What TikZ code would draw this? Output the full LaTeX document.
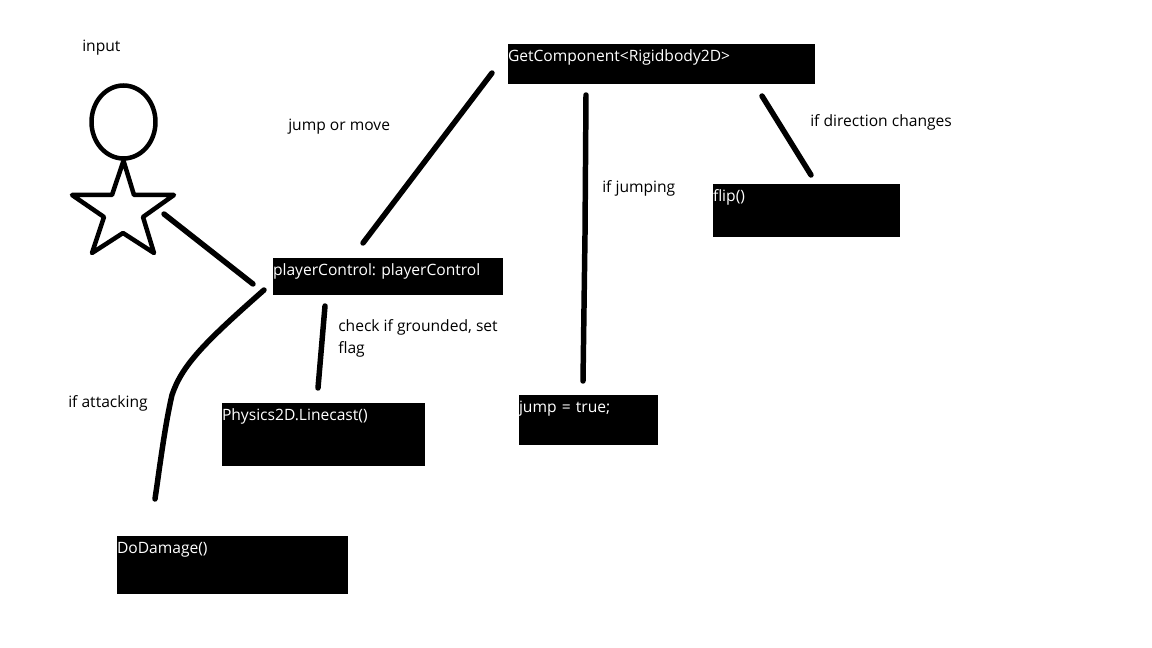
\documentclass[tikz,border=0pt]{standalone}
\usepackage{fontspec}
\setmainfont{Open Sans}
\usepackage{xcolor}
\usetikzlibrary{positioning,calc,shapes}
\frenchspacing

\begin{document}
\begin{tikzpicture}[
    x=0.025cm, y=-0.025cm,
    paintline/.style={line width=3.9pt, line cap=round, line join=round},
    paintshape/.style={line width=3.2pt, line join=round, line cap=round},
    notelabel/.style={inner sep=0pt, anchor=base west, text=black, font=\fontsize{11.1}{15.6}\selectfont},
    paintbox/.style n args={2}{fill=black, text=white, inner sep=0pt, outer sep=0pt, anchor=north west,
        font=\fontsize{11.1}{15.6}\selectfont, align=left, text width=#1*0.025cm,
        text height=18*0.025cm, text depth=(#2-18)*0.025cm}
]
    \useasboundingbox (0,0) rectangle (1152,648);

    % boxes
    \node[paintbox={230}{37}] (playerCtrl) at (273,258) {playerControl: playerControl};
    \node[paintbox={307}{40}] (rigidBody) at (508,44) {GetComponent<Rigidbody2D>};
    \node[paintbox={203}{63}] (lineCast) at (222,403) {Physics2D.Linecast()};
    \node[paintbox={231}{58}] (doDamage) at (117,536) {DoDamage()};
    \node[paintbox={139}{50}] (jumpFlag) at (519,395) {jump = true;};
    \node[paintbox={187}{53}] (flipCall) at (713,184) {flip()};

    % actor
    \node[draw, paintshape, ellipse, inner sep=0pt, minimum width=64*0.025cm, minimum height=73*0.025cm] (head) at (123.5,122) {};
    \draw[paintshape] (head.south) -- (134,195) -- (174,195) -- (143,217) -- (154,253) -- (123,233)
        -- (92,253) -- (104,217) -- (72,195) -- (112,195) -- cycle;
    \coordinate (starTip) at (164,214);

    % connectors
    \draw[paintline] (starTip) -- ($(playerCtrl.north west)+(-20,26)$);
    \draw[paintline] ($(playerCtrl.north west)+(-9,32)$) .. controls (205,342) and (182,365) .. (172,395)
        .. controls (165,425) and (160,465) .. ($(doDamage.north west)+(38,-37)$);
    \draw[paintline] ($(playerCtrl.north west)+(90,-15)$) -- ($(rigidBody.north west)+(-16,29)$);
    \draw[paintline] ($(playerCtrl.south west)+(52,11)$) -- ($(lineCast.north west)+(96,-15)$);
    \draw[paintline] ($(rigidBody.south west)+(78,11)$) -- ($(jumpFlag.north west)+(66,-160)$) -- ($(jumpFlag.north west)+(64,-14)$);
    \draw[paintline] ($(rigidBody.south west)+(254,12)$) -- ($(flipCall.north west)+(98,-9)$);

    % labels
    \node[notelabel] (inputLabel) at (82,52) {input};
    \node[notelabel] (jumpMoveLabel) at (288,131) {jump or move};
    \node[notelabel] (attackLabel) at (68,408) {if attacking};
    \node[notelabel, anchor=north west, align=left] (groundLabel) at (338,319) {check if grounded, set\\flag};
    \node[notelabel] (jumpingLabel) at (602,193) {if jumping};
    \node[notelabel] (directionLabel) at (810,127) {if direction changes};
\end{tikzpicture}
\end{document}
